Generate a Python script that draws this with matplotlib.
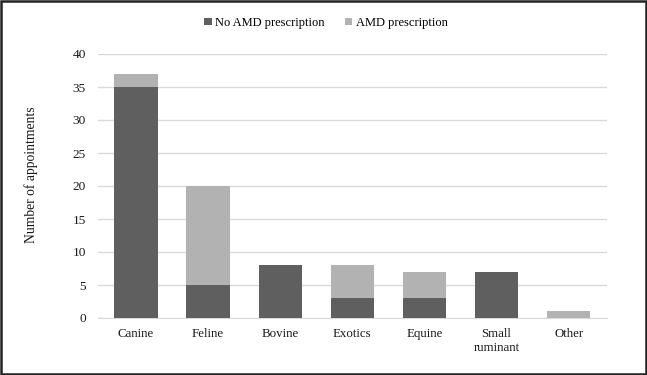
import matplotlib.pyplot as plt
import numpy as np

plt.rcParams['font.family'] = ['Liberation Serif', 'DejaVu Serif']

categories = ['Canine', 'Feline', 'Bovine', 'Exotics', 'Equine', 'Small\nruminant', 'Other']
no_amd = [35, 5, 8, 3, 3, 7, 0]
amd = [2, 15, 0, 5, 4, 0, 1]

fig = plt.figure(figsize=(6.47, 3.75), dpi=100)
ax = fig.add_axes([0.151, 0.152, 0.787, 0.704])

x = np.arange(len(categories))
ax.bar(x, no_amd, width=0.6, color='#5f5f5f', label='No AMD prescription', zorder=3)
ax.bar(x, amd, width=0.6, bottom=no_amd, color='#b2b2b2', label='AMD prescription', zorder=3)

ax.set_ylim(0, 40)
ax.set_xlim(-0.53, len(categories) - 0.47)
ax.set_yticks(range(0, 41, 5))
ax.set_xticks(x)
ax.set_xticklabels(categories, fontsize=9.3, linespacing=1.3, color='#1a1a1a')
ax.tick_params(axis='y', labelsize=9.6, length=0, pad=8.5, labelcolor='#1a1a1a')
ax.tick_params(axis='x', length=0, pad=7)
ax.grid(axis='y', color='#d9d9d9', linewidth=1, zorder=0)
for s in ['top', 'right', 'left']:
    ax.spines[s].set_visible(False)
ax.spines['bottom'].set_color('#d9d9d9')
ax.set_ylabel('Number of appointments', fontsize=9.8, color='#1a1a1a')
ax.yaxis.set_label_coords(-0.118, 0.544)

fig.legend(loc='upper center', bbox_to_anchor=(0.504, 0.985), ncol=2, frameon=False,
           fontsize=9.0, handlelength=0.6, handleheight=0.6, handletextpad=0.3, columnspacing=1.6)

# border around the whole figure
fig.patches.append(plt.Rectangle((0.002, 0.003), 0.996, 0.994, transform=fig.transFigure,
                                 fill=False, edgecolor='#222222', linewidth=1.8))

fig.savefig('out.png', dpi=100)
